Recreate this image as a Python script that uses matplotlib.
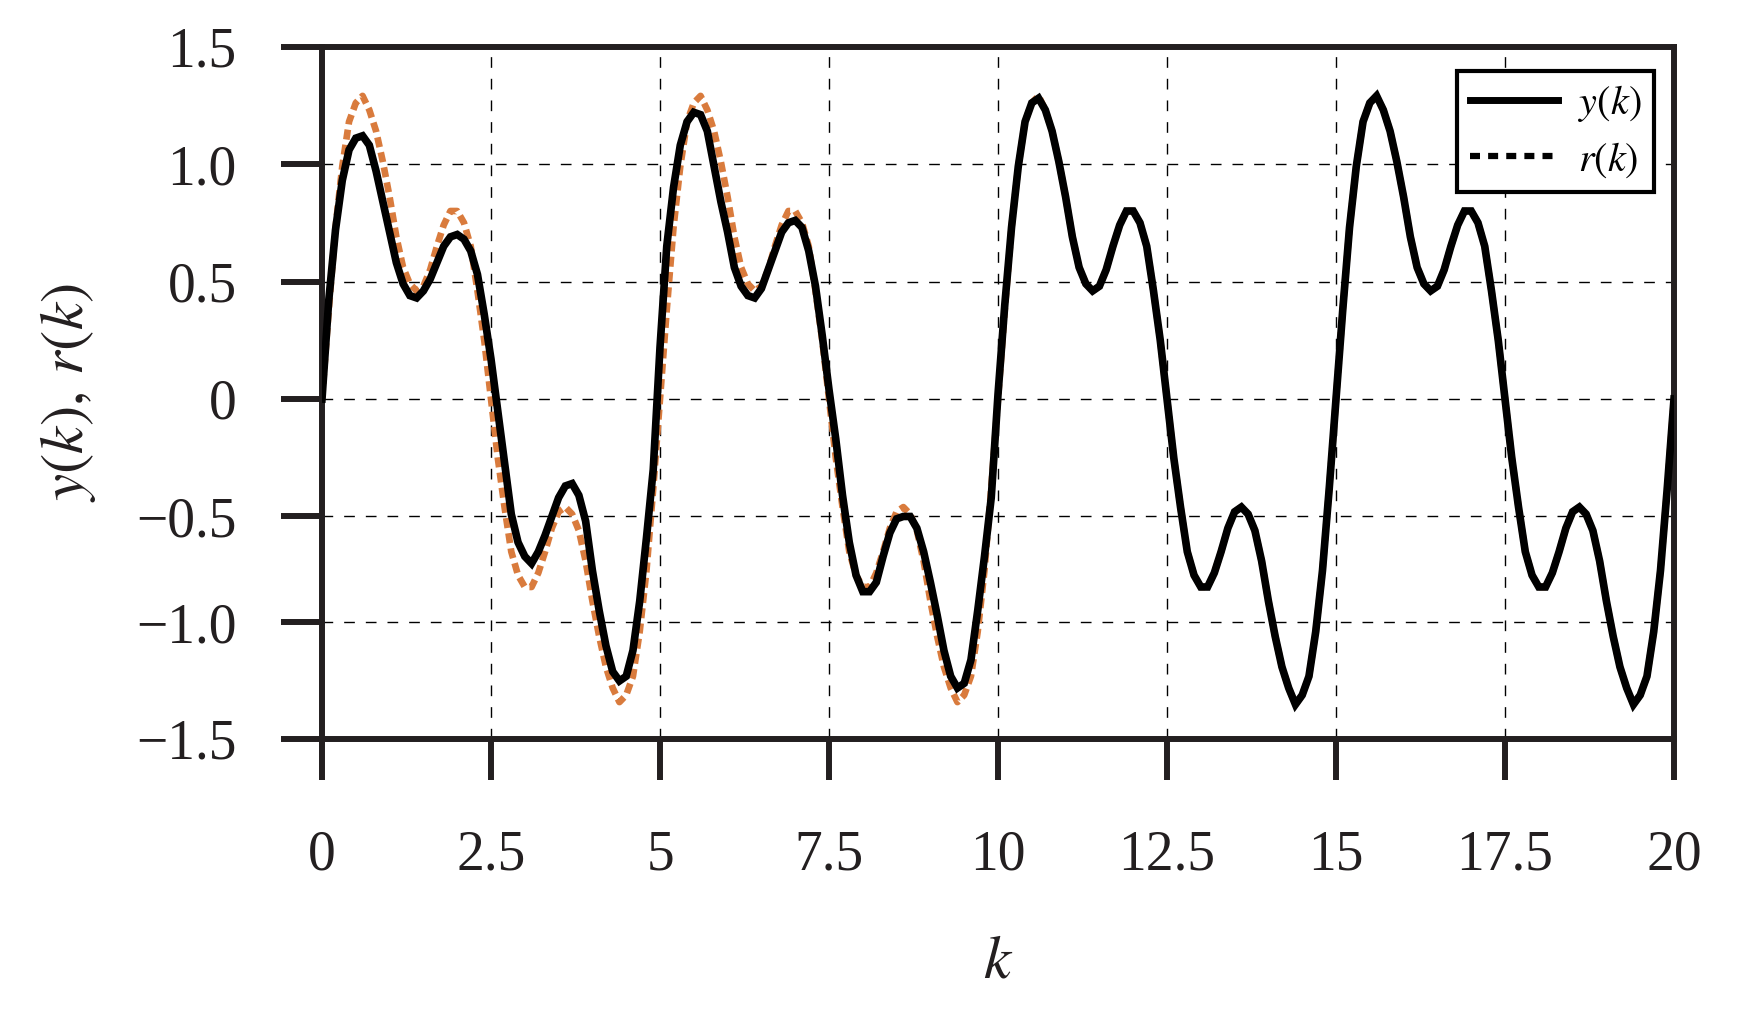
import numpy as np
import matplotlib
matplotlib.use("Agg")
import matplotlib.pyplot as plt
from matplotlib.lines import Line2D

plt.rcParams["font.family"] = ["Liberation Serif", "DejaVu Serif"]
plt.rcParams["mathtext.fontset"] = "stix"

# ── Data (sample step 0.1 in k) ──────────────────────────────────────────────
K_STEP = 0.1

# reference r(k)
r_vals = [
    0.00, 0.38, 0.73, 0.99, 1.18, 1.26, 1.29, 1.23, 1.14, 1.01,
    0.86, 0.69, 0.56, 0.49, 0.46, 0.48, 0.55, 0.65, 0.74, 0.80,
    0.80, 0.75, 0.65, 0.46, 0.25, 0.00, -0.25, -0.46, -0.65, -0.75,
    -0.80, -0.80, -0.74, -0.65, -0.55, -0.48, -0.46, -0.49, -0.56, -0.69,
    -0.86, -1.01, -1.14, -1.23, -1.29, -1.26, -1.18, -0.99, -0.73, -0.38,
    0.00, 0.38, 0.73, 0.99, 1.18, 1.26, 1.29, 1.23, 1.14, 1.01,
    0.86, 0.69, 0.56, 0.49, 0.46, 0.48, 0.55, 0.65, 0.74, 0.80,
    0.80, 0.75, 0.65, 0.46, 0.25, 0.00, -0.25, -0.46, -0.65, -0.75,
    -0.80, -0.80, -0.74, -0.65, -0.55, -0.48, -0.46, -0.49, -0.56, -0.69,
    -0.86, -1.01, -1.14, -1.23, -1.29, -1.26, -1.18, -0.99, -0.73, -0.38,
    0.00, 0.38, 0.73, 0.99, 1.18, 1.26, 1.29, 1.23, 1.14, 1.01,
    0.86, 0.69, 0.56, 0.49, 0.46, 0.48, 0.55, 0.65, 0.74, 0.80,
    0.80, 0.75, 0.65, 0.46, 0.25, 0.00, -0.25, -0.46, -0.65, -0.75,
    -0.80, -0.80, -0.74, -0.65, -0.55, -0.48, -0.46, -0.49, -0.56, -0.69,
    -0.86, -1.01, -1.14, -1.23, -1.30, -1.26, -1.18, -0.99, -0.73, -0.38,
    0.00, 0.38, 0.73, 0.99, 1.18, 1.26, 1.29, 1.23, 1.14, 1.01,
    0.86, 0.69, 0.56, 0.49, 0.46, 0.48, 0.55, 0.65, 0.74, 0.80,
    0.80, 0.75, 0.65, 0.46, 0.25, 0.00, -0.25, -0.46, -0.65, -0.75,
    -0.80, -0.80, -0.74, -0.65, -0.55, -0.48, -0.46, -0.49, -0.56, -0.69,
    -0.86, -1.01, -1.14, -1.23, -1.30, -1.26, -1.18, -0.99, -0.73, -0.38,
    0.00,
]

# system output y(k)
y_vals = [
    0.00, 0.42, 0.72, 0.93, 1.06, 1.11, 1.12, 1.08, 0.97, 0.84,
    0.71, 0.58, 0.49, 0.44, 0.43, 0.46, 0.51, 0.58, 0.65, 0.69,
    0.70, 0.68, 0.63, 0.53, 0.36, 0.17, -0.05, -0.27, -0.49, -0.61,
    -0.67, -0.70, -0.65, -0.58, -0.50, -0.42, -0.37, -0.36, -0.41, -0.52,
    -0.73, -0.90, -1.05, -1.16, -1.20, -1.18, -1.07, -0.86, -0.59, -0.30,
    0.22, 0.65, 0.90, 1.08, 1.18, 1.22, 1.21, 1.14, 0.99, 0.84,
    0.71, 0.56, 0.48, 0.44, 0.43, 0.47, 0.55, 0.63, 0.71, 0.75,
    0.76, 0.73, 0.63, 0.48, 0.27, 0.04, -0.17, -0.41, -0.61, -0.75,
    -0.82, -0.82, -0.78, -0.67, -0.57, -0.51, -0.50, -0.50, -0.55, -0.65,
    -0.78, -0.92, -1.07, -1.18, -1.23, -1.21, -1.11, -0.90, -0.67, -0.42,
    0.02, 0.40, 0.73, 0.99, 1.18, 1.26, 1.28, 1.23, 1.14, 1.01,
    0.86, 0.69, 0.56, 0.49, 0.46, 0.48, 0.55, 0.65, 0.74, 0.80,
    0.80, 0.75, 0.65, 0.46, 0.25, 0.00, -0.25, -0.46, -0.65, -0.75,
    -0.80, -0.80, -0.74, -0.65, -0.55, -0.48, -0.46, -0.49, -0.56, -0.69,
    -0.86, -1.01, -1.14, -1.23, -1.30, -1.26, -1.18, -0.99, -0.73, -0.38,
    0.00, 0.38, 0.73, 0.99, 1.18, 1.26, 1.29, 1.23, 1.14, 1.01,
    0.86, 0.69, 0.56, 0.49, 0.46, 0.48, 0.55, 0.65, 0.74, 0.80,
    0.80, 0.75, 0.65, 0.46, 0.25, 0.00, -0.25, -0.46, -0.65, -0.75,
    -0.80, -0.80, -0.74, -0.65, -0.55, -0.48, -0.46, -0.49, -0.56, -0.69,
    -0.86, -1.01, -1.14, -1.23, -1.30, -1.26, -1.18, -0.99, -0.73, -0.38,
    0.00,
]

x_ticks = [0, 2.5, 5, 7.5, 10, 12.5, 15, 17.5, 20]
x_tick_labels = ["0", "2.5", "5", "7.5", "10", "12.5", "15", "17.5", "20"]
# the reference's y grid is not evenly spaced at the bottom, keep it as drawn
y_ticks = [-1.447, -0.95, -0.5, 0.0, 0.5, 1.0, 1.498]
y_tick_labels = ["\u22121.5", "\u22121.0", "\u22120.5", "0", "0.5", "1.0", "1.5"]

INK = "#231f20"
ORANGE = "#d97b3d"

k = np.arange(len(r_vals)) * K_STEP

# ── Figure ────────────────────────────────────────────────────────────────────
fig = plt.figure(figsize=(17.38, 10.10), dpi=100)
ax = fig.add_axes([0.18527, 0.26832, 0.77791, 0.68515])

ax.plot(k, r_vals, color=ORANGE, lw=4.8, linestyle=(0, (1.5, 0.8)), zorder=2)
ax.plot(k, y_vals, color="black", lw=5.5, solid_joinstyle="miter", zorder=3)

ax.set_xlim(0, 20)
ax.set_ylim(y_ticks[0], y_ticks[-1])
ax.set_xticks(x_ticks)
ax.set_xticklabels(x_tick_labels)
ax.set_yticks(y_ticks)
ax.set_yticklabels(y_tick_labels)

ax.set_axisbelow(True)
ax.grid(True, color="black", lw=1.0, linestyle=(0, (7.7, 7.9)))

for sp in ax.spines.values():
    sp.set_linewidth(4.3)
    sp.set_color(INK)

ax.tick_params(axis="both", direction="out", length=29.5, width=4.3,
               color=INK, labelcolor=INK, labelsize=40)
ax.tick_params(axis="x", pad=36)
ax.tick_params(axis="y", pad=32)

ax.set_xlabel(r"$k$", fontsize=44, color=INK)
ax.xaxis.set_label_coords(0.5, -0.283)
ax.set_ylabel(r"$y(k),\, r(k)$", fontsize=44, color=INK)
ax.yaxis.set_label_coords(-0.166, 0.5)

handles = [
    Line2D([], [], color="black", lw=5.0),
    Line2D([], [], color="black", lw=4.5, linestyle=(0, (1.6, 1.3))),
]
leg = ax.legend(handles, [r"$y(k)$", r"$r(k)$"], loc="upper right",
                bbox_to_anchor=(1654 / 1738, 1 - 71 / 1010),
                bbox_transform=fig.transFigure, borderaxespad=0,
                fontsize=29, frameon=True, fancybox=False, framealpha=1,
                edgecolor="black", handlelength=2.2, handletextpad=0.5,
                borderpad=0.3, labelspacing=0.4)
leg.get_frame().set_linewidth(3)

fig.savefig("out.png", dpi=100)
